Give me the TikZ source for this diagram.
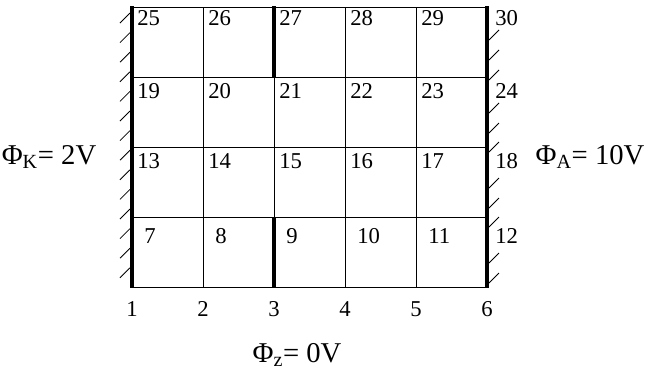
\documentclass[tikz,border=0pt]{standalone}
\usepackage{fontspec}
\setmainfont{Liberation Serif}
\tikzset{
  num/.style={anchor=north west,inner sep=0pt,font=\fontsize{17}{17}\selectfont},
  foot/.style={inner sep=0pt,font=\fontsize{17}{17}\selectfont},
  pot/.style={inner sep=0pt,font=\fontsize{21.5}{21.5}\selectfont},
  wall/.style={line width=3pt},
  hatch/.style={line width=0.6pt}
}
\begin{document}
\begin{tikzpicture}[x=0.75pt,y=-0.75pt]
  \useasboundingbox (0,0) rectangle (647,372);

  % grid lines
  \foreach \i in {0,...,5} \draw[line width=0.6pt] (132+71*\i,7) -- (132+71*\i,287);
  \foreach \j in {0,...,4} \draw[line width=0.6pt] (132,7+70*\j) -- (487,7+70*\j);

  % electrodes
  \draw[wall] (132,6) -- (132,288); % cathode
  \draw[wall] (487,6) -- (487,288); % anode
  \draw[wall] (274,6) -- (274,77);
  \draw[wall] (274,217) -- (274,288);

  % hatching
  \foreach \k in {0,...,13} \draw[hatch] (120,13+19.6*\k+10) -- (130,13+19.6*\k);
  \foreach \y in {30,50,70,103,123,142,178,198,217,253,273} \draw[hatch] (489,\y+10) -- (499,\y);

  % node numbers
  \foreach \c in {0,...,5} {
    \pgfmathtruncatemacro{\n}{\c+1}
    \node[foot] (n\n) at (132+71*\c,309) {\n};
  }
  \foreach \r/\dx/\dy in {1/12/11,2/5/6,3/5/6,4/5/3} {
    \foreach \c in {0,...,5} {
      \pgfmathtruncatemacro{\n}{6*\r+\c+1}
      \pgfmathsetmacro{\ex}{\c==5 ? 8 : \dx}
      \pgfmathsetmacro{\ey}{7+70*(4-\r)+\dy}
      \node[num] (n\n) at (132+71*\c+\ex,\ey) {\n};
    }
  }

  % potentials
  \node[pot] (phik) at (49,157) {Φ\textsubscript{K}= 2V};
  \node[pot] (phia) at (590,157) {Φ\textsubscript{A}= 10V};
  \node[pot] (phiz) at (297,355) {Φ\textsubscript{z}= 0V};
\end{tikzpicture}
\end{document}
